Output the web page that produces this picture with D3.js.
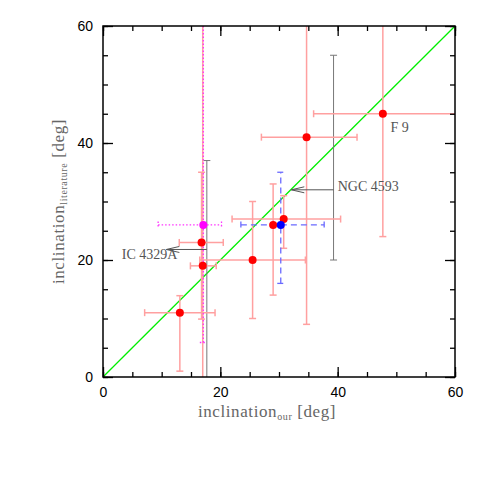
<!DOCTYPE html>
<html>
<head>
<meta charset="utf-8">
<script src="https://cdn.jsdelivr.net/npm/d3@7"></script>
<style>
  body { margin: 0; background: #fff; }
  .tick text { font-family: "Liberation Sans", Arial, sans-serif; font-size: 14px; fill: #000; }
  .title { font-family: "Liberation Serif", "Times New Roman", serif; fill: #666; letter-spacing: 0.6px; }
  .note { font-family: "Liberation Serif", "Times New Roman", serif; font-size: 14px; fill: #555; }
</style>
</head>
<body>
<div id="container"></div>
<script>
// our sample (red points) with error ranges
var xOur = [13.1, 16.8, 17.0, 25.5, 29.0, 30.8, 34.7, 47.7]
var yLit = [11, 23, 19, 20, 26, 27, 41, 45]
var xLow = [7.1, 13.0, 14.9, 16.5, null, 22.0, 27.0, 35.9]
var xHigh = [19.1, 20.5, 19.3, 34.5, null, 40.5, 43.3, 66]
var yLow = [1.0, 9.9, -30, 10, 14, 22, 9, 24]
var yHigh = [13.9, 35, 90, 30, 33, 31, 73, 66]

// blue (dashed) and magenta (dotted) points
var bluePoint = [30.3, 26]
var blueX = [23.5, 37.7]
var blueY = [16, 35]
var magentaPoint = [17.1, 26]
var magentaX = [9.4, 20.2]
var magentaY = [5.9, 70]

// gray bars for the labelled objects: x, yLow, yHigh
var grayBars = [[17.7, -10, 37], [39.3, 20, 55]]
// arrows: x from, x to, y
var arrows = [[17.7, 10.8, 21.8], [39.3, 32.1, 32.0]]
// notes: text, x, y
var notes = [['IC 4329A', 3.2, 20.1], ['NGC 4593', 40.0, 31.8], ['F 9', 49.0, 41.9]]

var majorTicks = [0, 20, 40, 60]
var minorTicks = d3.range(0, 61, 5)

var width = 480
var height = 480
var margin = { left: 103, top: 26, right: 25, bottom: 103 }
var w = width - margin.left - margin.right
var h = height - margin.top - margin.bottom

var svg = d3.select('#container').append('svg')
  .attr('width', width)
  .attr('height', height)

var x = d3.scaleLinear().domain([0, 60]).range([0, w])
var y = d3.scaleLinear().domain([0, 60]).range([h, 0])

var g = svg.append('g').attr('transform', 'translate(' + margin.left + ',' + margin.top + ')')

g.append('clipPath').attr('id', 'clip')
  .append('rect').attr('width', w).attr('height', h)

var plot = g.append('g').attr('clip-path', 'url(#clip)')

var cap = 3.5

function errBar (sel, xv, yv, xr, yr, stroke, dash, sw) {
  var eg = sel.append('g')
    .attr('stroke', stroke)
    .attr('stroke-width', sw)
    .attr('stroke-dasharray', dash)
    .attr('fill', 'none')
  if (xr && xr[0] != null) {
    eg.append('line').attr('x1', x(xr[0])).attr('x2', x(xr[1])).attr('y1', y(yv)).attr('y2', y(yv))
    xr.forEach(function (v) {
      eg.append('line').attr('x1', x(v)).attr('x2', x(v)).attr('y1', y(yv) - cap).attr('y2', y(yv) + cap)
    })
  }
  if (yr) {
    eg.append('line').attr('x1', x(xv)).attr('x2', x(xv)).attr('y1', y(yr[0])).attr('y2', y(yr[1]))
    yr.forEach(function (v) {
      eg.append('line').attr('x1', x(xv) - cap).attr('x2', x(xv) + cap).attr('y1', y(v)).attr('y2', y(v))
    })
  }
}

// green one-to-one line
plot.append('line')
  .attr('x1', x(0)).attr('y1', y(0)).attr('x2', x(60)).attr('y2', y(60))
  .attr('stroke', '#00ee00').attr('stroke-width', 1.3)

// gray bars for labelled objects
grayBars.forEach(function (b) {
  errBar(plot, b[0], null, null, [b[1], b[2]], '#777', null, 1)
})

// red error bars
xOur.forEach(function (xv, i) {
  errBar(plot, xv, yLit[i], [xLow[i], xHigh[i]], [yLow[i], yHigh[i]], '#ffa0a0', null, 1.5)
})

errBar(plot, magentaPoint[0], magentaPoint[1], magentaX, magentaY, '#ff33ff', '1.5,2', 1.3)
errBar(plot, bluePoint[0], bluePoint[1], blueX, blueY, '#6a6aff', '6,4', 1.3)

// arrows
arrows.forEach(function (a) {
  var ag = plot.append('g').attr('stroke', '#555').attr('stroke-width', 1).attr('fill', 'none')
  ag.append('line').attr('x1', x(a[0])).attr('x2', x(a[1])).attr('y1', y(a[2])).attr('y2', y(a[2]))
  ag.append('path')
    .attr('d', 'M' + (x(a[1]) + 13) + ',' + (y(a[2]) - 3) + 'L' + x(a[1]) + ',' + y(a[2]) + 'L' + (x(a[1]) + 13) + ',' + (y(a[2]) + 3))
})

// points
plot.selectAll('circle.red')
  .data(xOur)
  .enter().append('circle')
  .attr('class', 'red')
  .attr('cx', function (d) { return x(d) })
  .attr('cy', function (d, i) { return y(yLit[i]) })
  .attr('r', 4)
  .attr('fill', '#ff0000')

plot.append('circle').attr('cx', x(magentaPoint[0])).attr('cy', y(magentaPoint[1])).attr('r', 4).attr('fill', '#ff00ff')
plot.append('circle').attr('cx', x(bluePoint[0])).attr('cy', y(bluePoint[1])).attr('r', 4).attr('fill', '#0000ff')

// notes
g.selectAll('text.note')
  .data(notes)
  .enter().append('text')
  .attr('class', 'note')
  .attr('x', function (d) { return x(d[1]) })
  .attr('y', function (d) { return y(d[2]) })
  .text(function (d) { return d[0] })

// axes: minor and major ticks, all pointing inward
function addAxis (axisFn, tickVals, size, transform, labels) {
  var ax = g.append('g')
    .attr('transform', transform)
    .call(axisFn.tickValues(tickVals).tickSize(-size).tickPadding(10)
      .tickFormat(labels ? d3.format('d') : ''))
  ax.select('.domain').remove()
  ax.selectAll('line').attr('stroke', '#000').attr('stroke-width', 1.3)
  return ax
}

addAxis(d3.axisBottom(x), minorTicks, 5, 'translate(0,' + h + ')', false)
addAxis(d3.axisBottom(x), majorTicks, 10, 'translate(0,' + h + ')', true)
addAxis(d3.axisLeft(y), minorTicks, 5, null, false)
addAxis(d3.axisLeft(y), majorTicks, 10, null, true)
addAxis(d3.axisTop(x), minorTicks, 5, null, false)
addAxis(d3.axisTop(x), majorTicks, 10, null, false)
addAxis(d3.axisRight(y), minorTicks, 5, 'translate(' + w + ',0)', false)
addAxis(d3.axisRight(y), majorTicks, 10, 'translate(' + w + ',0)', false)

g.selectAll('.tick text').attr('font-family', null).attr('font-size', null)

g.append('rect')
  .attr('width', w).attr('height', h)
  .attr('fill', 'none').attr('stroke', '#000').attr('stroke-width', 1.5)

// axis titles
var xt = svg.append('text').attr('class', 'title')
  .attr('x', 267).attr('y', 417)
  .attr('text-anchor', 'middle')
  .style('font-size', '17px')
xt.append('tspan').text('inclination')
xt.append('tspan').attr('dy', 3).style('font-size', '10px').text('our')
xt.append('tspan').attr('dy', -3).text(' [deg]')

var yt = svg.append('text').attr('class', 'title')
  .attr('transform', 'translate(64,' + (margin.top + h / 2) + ') rotate(-90)')
  .attr('text-anchor', 'middle')
  .style('font-size', '17px')
yt.append('tspan').text('inclination')
yt.append('tspan').attr('dy', 3).style('font-size', '10px').text('literature')
yt.append('tspan').attr('dy', -3).text(' [deg]')
</script>
</body>
</html>
